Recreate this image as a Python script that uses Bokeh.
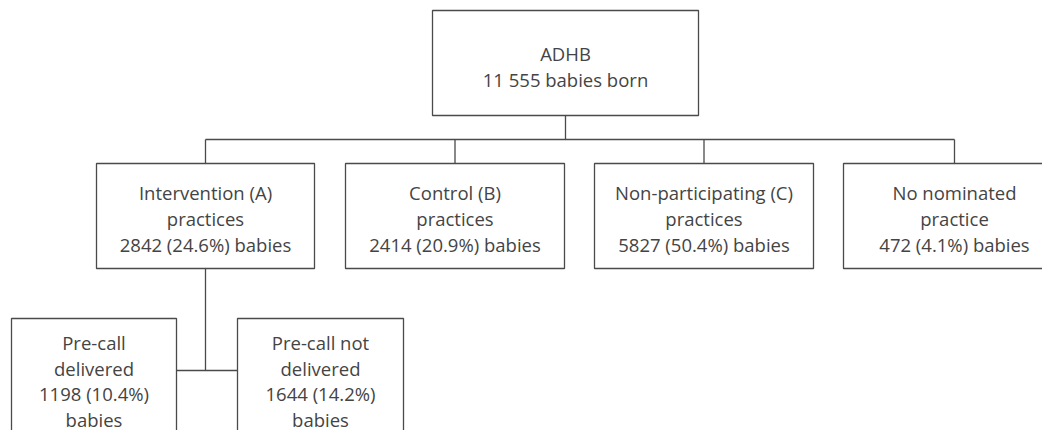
from bokeh.plotting import figure
from bokeh.models import Range1d, ColumnDataSource
from bokeh.core.properties import value
from bokeh.embed import file_html
from bokeh.resources import INLINE

# ---- data ----
root_name = "ADHB"
root_babies = 11555
group_names = ["Intervention (A)", "Control (B)", "Non-participating (C)", "No nominated"]
group_kind = ["practices", "practices", "practices", "practice"]
group_babies = [2842, 2414, 5827, 472]
group_pct = [24.6, 20.9, 50.4, 4.1]
sub_names = ["Pre-call", "Pre-call not"]
sub_kind = ["delivered", "delivered"]
sub_babies = [1198, 1644]
sub_pct = [10.4, 14.2]

# ---- layout (page pixel coordinates) ----
root_box = (432, 698, 10, 115)
group_left = [96, 345, 594, 843]
group_right = [314, 564, 813, 1065]
group_top, group_bottom = 163, 268
sub_left = [11, 237]
sub_right = [176, 403]
sub_top, sub_bottom = 318, 460
bus_y = 139
sub_bus_y = 370

FONT = value("Open Sans")
TXT = "#444444"
LINE = "#4a4a4a"
FS = "18.5px"

p = figure(width=1042, height=430, output_backend="svg", toolbar_location=None,
           x_range=Range1d(0, 1042), y_range=Range1d(430, 0),
           min_border=0, outline_line_color=None)
p.axis.visible = False
p.grid.visible = False
p.background_fill_color = "white"
p.border_fill_color = "white"

def fmt_thousands(n):
    return f"{n:,}".replace(",", " ")

# boxes
lefts = [root_box[0]] + group_left + sub_left
rights = [root_box[1]] + group_right + sub_right
tops = [root_box[2]] + [group_top] * len(group_left) + [sub_top] * len(sub_left)
bottoms = [root_box[3]] + [group_bottom] * len(group_left) + [sub_bottom] * len(sub_left)
p.quad(left=lefts, right=rights, top=tops, bottom=bottoms,
       fill_color=None, line_color=LINE, line_width=1.3)

# connectors
root_cx = (root_box[0] + root_box[1]) / 2
group_cx = [(l + r) / 2 for l, r in zip(group_left, group_right)]
group_cx[-1] = 954
xs = [[root_cx, root_cx], [group_cx[0], group_cx[-1]]]
ys = [[root_box[3], bus_y], [bus_y, bus_y]]
for cx in group_cx:
    xs.append([cx, cx]); ys.append([bus_y, group_top])
xs.append([group_cx[0], group_cx[0]]); ys.append([group_bottom, sub_bus_y])
xs.append([sub_right[0], sub_left[1]]); ys.append([sub_bus_y, sub_bus_y])
p.multi_line(xs=xs, ys=ys, line_color=LINE, line_width=1.3)

# texts
tx, ty, tt = [], [], []
root_lines = [root_name, f"{fmt_thousands(root_babies)} babies born"]
for i, s in enumerate(root_lines):
    tx.append(root_cx); ty.append(53 + 26 * i); tt.append(s)
for k in range(len(group_names)):
    lines = [group_names[k], group_kind[k], f"{group_babies[k]} ({group_pct[k]}%) babies"]
    for i, s in enumerate(lines):
        tx.append(group_cx[k]); ty.append(192 + 26 * i); tt.append(s)
for k in range(len(sub_names)):
    cx = (sub_left[k] + sub_right[k]) / 2
    lines = [sub_names[k], sub_kind[k], f"{sub_babies[k]} ({sub_pct[k]}%)", "babies"]
    for i, s in enumerate(lines):
        tx.append(cx); ty.append(342 + 25.5 * i); tt.append(s)

src = ColumnDataSource(dict(x=tx, y=ty, t=tt))
p.text(x="x", y="y", text="t", source=src, text_align="center", text_baseline="middle",
       text_font=FONT, text_font_size=FS, text_color=TXT)

open("out.html", "w").write(file_html(p, INLINE))
